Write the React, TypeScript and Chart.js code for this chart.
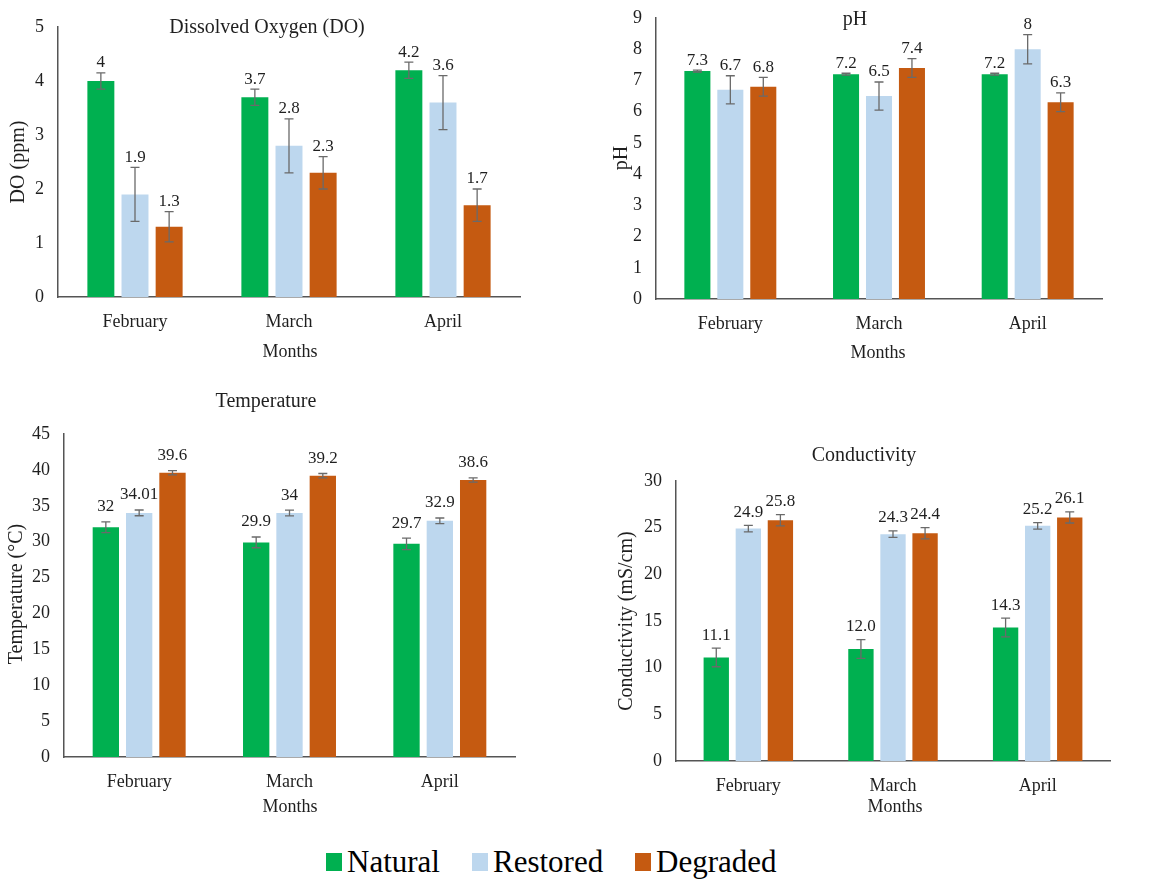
import React, { useEffect, useRef } from 'react';
import { Chart, registerables } from 'chart.js';

Chart.register(...registerables);

// ---------- data ----------
const months = ['February', 'March', 'April'];
const seriesNames = ['Natural', 'Restored', 'Degraded'];
const seriesColors = ['#00B050', '#BDD7EE', '#C55A11'];

const doNatural = [4, 3.7, 4.2];
const doRestored = [1.9, 2.8, 3.6];
const doDegraded = [1.3, 2.3, 1.7];
const doNaturalErr = [0.15, 0.15, 0.15];
const doRestoredErr = [0.5, 0.5, 0.5];
const doDegradedErr = [0.28, 0.3, 0.3];

const phNatural = [7.3, 7.2, 7.2];
const phRestored = [6.7, 6.5, 8];
const phDegraded = [6.8, 7.4, 6.3];
const phNaturalErr = [0.03, 0.03, 0.03];
const phRestoredErr = [0.45, 0.45, 0.47];
const phDegradedErr = [0.3, 0.3, 0.3];

const tempNatural = [32, 29.9, 29.7];
const tempRestored = [34.01, 34, 32.9];
const tempDegraded = [39.6, 39.2, 38.6];
const tempNaturalErr = [0.75, 0.75, 0.8];
const tempRestoredErr = [0.4, 0.4, 0.4];
const tempDegradedErr = [0.3, 0.3, 0.3];

const condNatural = [11.1, 12.0, 14.3];
const condRestored = [24.9, 24.3, 25.2];
const condDegraded = [25.8, 24.4, 26.1];
const condNaturalErr = [1.0, 1.0, 1.0];
const condRestoredErr = [0.35, 0.35, 0.35];
const condDegradedErr = [0.6, 0.6, 0.6];

const FONT = "'Liberation Serif', 'Times New Roman', serif";
const TEXT = '#1f1f1f';
const AXIS = '#555555';
const ERR = '#6a6a6a';

type Panel = {
  left: number; top: number; width: number; height: number;
  x0: number; x1: number; yTop: number; yBottom: number;
  max: number; step: number;
  title: string; titleX: number; titleY: number;
  yTitle: string; yTitleX: number; yTitleY: number;
  xTitleX: number; xTitleY: number;
  labelOffset: number; decimals: number | null;
  values: number[][]; errors: number[][];
};

const panels: Panel[] = [
  {
    left: 0, top: 0, width: 588, height: 378,
    x0: 58, x1: 520, yTop: 27, yBottom: 297, max: 5, step: 1,
    title: 'Dissolved Oxygen (DO)', titleX: 267, titleY: 28,
    yTitle: 'DO (ppm)', yTitleX: 19, yTitleY: 162,
    xTitleX: 290, xTitleY: 352, labelOffset: 10, decimals: null,
    values: [doNatural, doRestored, doDegraded],
    errors: [doNaturalErr, doRestoredErr, doDegradedErr],
  },
  {
    left: 588, top: 0, width: 588, height: 378,
    x0: 656, x1: 1102, yTop: 18, yBottom: 299, max: 9, step: 1,
    title: 'pH', titleX: 855, titleY: 20,
    yTitle: 'pH', yTitleX: 622, yTitleY: 158,
    xTitleX: 878, xTitleY: 353, labelOffset: 10, decimals: null,
    values: [phNatural, phRestored, phDegraded],
    errors: [phNaturalErr, phRestoredErr, phDegradedErr],
  },
  {
    left: 0, top: 378, width: 588, height: 452,
    x0: 64, x1: 515, yTop: 434, yBottom: 757, max: 45, step: 5,
    title: 'Temperature', titleX: 266, titleY: 402,
    yTitle: 'Temperature (°C)', yTitleX: 17, yTitleY: 594,
    xTitleX: 290, xTitleY: 807, labelOffset: 15, decimals: null,
    values: [tempNatural, tempRestored, tempDegraded],
    errors: [tempNaturalErr, tempRestoredErr, tempDegradedErr],
  },
  {
    left: 588, top: 378, width: 588, height: 452,
    x0: 676, x1: 1110, yTop: 481, yBottom: 761, max: 30, step: 5,
    title: 'Conductivity', titleX: 864, titleY: 456,
    yTitle: 'Conductivity (mS/cm)', yTitleX: 627, yTitleY: 621,
    xTitleX: 895, xTitleY: 807, labelOffset: 13, decimals: 1,
    values: [condNatural, condRestored, condDegraded],
    errors: [condNaturalErr, condRestoredErr, condDegradedErr],
  },
];

function makeDecorPlugin(p: Panel) {
  return {
    id: 'decor',
    afterDatasetsDraw(chart: any) {
      const ctx = chart.ctx;
      const yScale = chart.scales.y;
      ctx.save();
      // error bars and value labels
      p.values.forEach((vals, di) => {
        const meta = chart.getDatasetMeta(di);
        meta.data.forEach((el: any, j: number) => {
          const v = vals[j];
          const e = p.errors[di][j];
          const yHi = yScale.getPixelForValue(v + e);
          const yLo = yScale.getPixelForValue(v - e);
          const x = el.x;
          ctx.strokeStyle = ERR;
          ctx.lineWidth = 1.3;
          ctx.beginPath();
          ctx.moveTo(x, yHi); ctx.lineTo(x, yLo);
          ctx.moveTo(x - 4.5, yHi); ctx.lineTo(x + 4.5, yHi);
          ctx.moveTo(x - 4.5, yLo); ctx.lineTo(x + 4.5, yLo);
          ctx.stroke();
          const txt = p.decimals === null ? String(v) : v.toFixed(p.decimals);
          ctx.fillStyle = TEXT;
          ctx.font = `17px ${FONT}`;
          ctx.textAlign = 'center';
          ctx.textBaseline = 'middle';
          ctx.fillText(txt, x, yHi - p.labelOffset);
        });
      });
      // titles
      ctx.fillStyle = TEXT;
      ctx.textAlign = 'center';
      ctx.textBaseline = 'middle';
      ctx.font = `20px ${FONT}`;
      ctx.fillText(p.title, p.titleX - p.left, p.titleY - p.top);
      ctx.font = `18px ${FONT}`;
      ctx.fillText('Months', p.xTitleX - p.left, p.xTitleY - p.top);
      ctx.save();
      ctx.translate(p.yTitleX - p.left, p.yTitleY - p.top);
      ctx.rotate(-Math.PI / 2);
      ctx.font = `20px ${FONT}`;
      ctx.fillText(p.yTitle, 0, 0);
      ctx.restore();
      ctx.restore();
    },
  };
}

function ChartPanel({ p }: { p: Panel }) {
  const ref = useRef<HTMLCanvasElement | null>(null);
  useEffect(() => {
    if (!ref.current) return;
    const chart = new Chart(ref.current, {
      type: 'bar',
      data: {
        labels: months,
        datasets: p.values.map((vals, i) => ({
          label: seriesNames[i],
          data: vals,
          backgroundColor: seriesColors[i],
          borderWidth: 0,
          categoryPercentage: 0.665,
          barPercentage: 0.79,
        })),
      },
      options: {
        responsive: false,
        maintainAspectRatio: false,
        animation: false,
        devicePixelRatio: 1,
        layout: {
          autoPadding: false,
          padding: {
            left: 0,
            top: p.yTop - p.top,
            right: p.left + p.width - p.x1,
            bottom: 0,
          },
        },
        plugins: {
          legend: { display: false },
          title: { display: false },
          tooltip: { enabled: false },
        },
        scales: {
          x: {
            grid: { display: false, drawTicks: false },
            border: { display: true, color: AXIS, width: 1.5 },
            ticks: { color: TEXT, font: { family: FONT, size: 18 }, padding: 14, maxRotation: 0 },
            afterFit: (s: any) => { s.height = p.top + p.height - p.yBottom; },
          },
          y: {
            min: 0,
            max: p.max,
            grid: { display: false, drawTicks: true, tickLength: 10 },
            border: { display: true, color: AXIS, width: 1.5 },
            ticks: { stepSize: p.step, color: TEXT, font: { family: FONT, size: 18 }, padding: 4 },
            afterFit: (s: any) => { s.width = p.x0 - p.left; },
          },
        },
      },
      plugins: [makeDecorPlugin(p)],
    } as any);
    return () => chart.destroy();
  }, [p]);
  return (
    <div style={{ position: 'absolute', left: p.left, top: p.top, width: p.width, height: p.height }}>
      <canvas ref={ref} width={p.width} height={p.height} style={{ width: p.width, height: p.height, display: 'block' }} />
    </div>
  );
}

const legendX = [326, 472, 635];

export default function App() {
  return (
    <div style={{ position: 'absolute', left: 0, top: 0, width: 1176, height: 881, background: '#fff', overflow: 'hidden' }}>
      {panels.map((p, i) => <ChartPanel key={i} p={p} />)}
      {seriesNames.map((name, i) => (
        <div key={name} style={{ position: 'absolute', left: legendX[i], top: 843, height: 38, display: 'flex', alignItems: 'center', fontFamily: FONT, fontSize: 31, color: '#000', whiteSpace: 'nowrap' }}>
          <span style={{ display: 'inline-block', width: 16, height: 18, background: seriesColors[i], marginRight: 5 }} />
          <span>{name}</span>
        </div>
      ))}
    </div>
  );
}
